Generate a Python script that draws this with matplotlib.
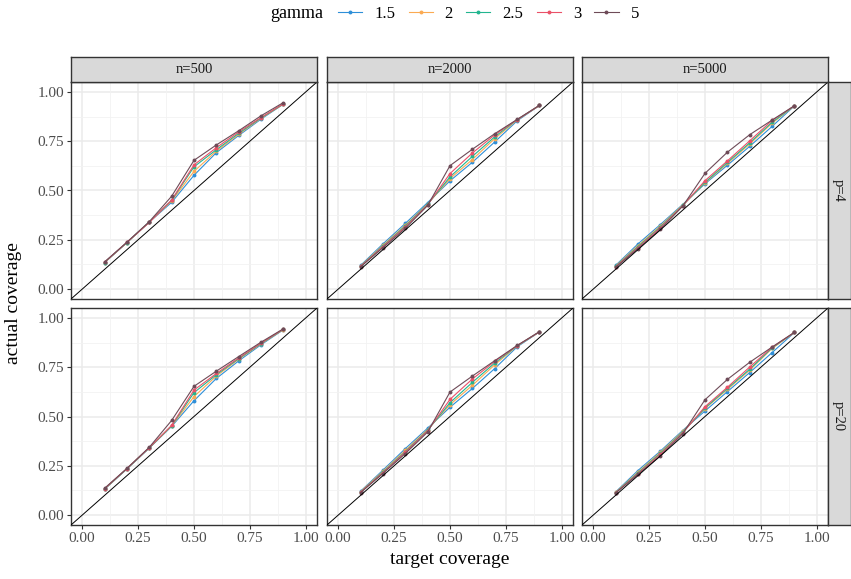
import numpy as np
import matplotlib
matplotlib.use("Agg")
import matplotlib.pyplot as plt
from matplotlib.lines import Line2D

plt.rcParams['font.family'] = ['Liberation Serif', 'DejaVu Serif']

target = [0.1, 0.2, 0.3, 0.4, 0.5, 0.6, 0.7, 0.8, 0.9]
gammas = ["1.5", "2", "2.5", "3", "5"]
colors = ["#2E8FD8", "#FBAA52", "#22B58F", "#EA5168", "#6E4B58"]
n_labels = ["n=500", "n=2000", "n=5000"]
p_labels = ["p=4", "p=20"]

# actual coverage, [p][n][gamma]
cov_p4_n500 = [
    [0.135, 0.236, 0.340, 0.440, 0.577, 0.692, 0.779, 0.862, 0.938],
    [0.135, 0.236, 0.340, 0.447, 0.597, 0.700, 0.785, 0.866, 0.938],
    [0.135, 0.236, 0.340, 0.450, 0.620, 0.707, 0.790, 0.868, 0.939],
    [0.136, 0.237, 0.338, 0.452, 0.630, 0.717, 0.797, 0.870, 0.940],
    [0.138, 0.238, 0.342, 0.471, 0.653, 0.731, 0.803, 0.879, 0.946],
]
cov_p4_n2000 = [
    [0.120, 0.229, 0.333, 0.439, 0.549, 0.643, 0.746, 0.853, 0.931],
    [0.117, 0.222, 0.324, 0.432, 0.560, 0.657, 0.763, 0.857, 0.931],
    [0.116, 0.218, 0.320, 0.430, 0.569, 0.673, 0.772, 0.859, 0.931],
    [0.115, 0.215, 0.315, 0.427, 0.586, 0.690, 0.782, 0.859, 0.931],
    [0.113, 0.210, 0.308, 0.424, 0.626, 0.709, 0.788, 0.860, 0.932],
]
cov_p4_n5000 = [
    [0.120, 0.229, 0.327, 0.429, 0.534, 0.628, 0.724, 0.825, 0.929],
    [0.117, 0.220, 0.320, 0.426, 0.538, 0.637, 0.736, 0.841, 0.929],
    [0.115, 0.215, 0.315, 0.424, 0.541, 0.642, 0.742, 0.846, 0.929],
    [0.113, 0.210, 0.310, 0.422, 0.550, 0.650, 0.752, 0.855, 0.929],
    [0.110, 0.205, 0.303, 0.420, 0.587, 0.694, 0.783, 0.857, 0.930],
]
cov_p20_n500 = [
    [0.131, 0.234, 0.340, 0.450, 0.580, 0.693, 0.782, 0.864, 0.940],
    [0.132, 0.235, 0.341, 0.452, 0.601, 0.705, 0.790, 0.868, 0.941],
    [0.133, 0.235, 0.341, 0.453, 0.621, 0.712, 0.793, 0.870, 0.942],
    [0.134, 0.236, 0.342, 0.455, 0.634, 0.718, 0.797, 0.872, 0.943],
    [0.136, 0.237, 0.344, 0.480, 0.653, 0.730, 0.804, 0.877, 0.945],
]
cov_p20_n2000 = [
    [0.121, 0.228, 0.337, 0.441, 0.547, 0.642, 0.743, 0.853, 0.929],
    [0.119, 0.222, 0.328, 0.434, 0.560, 0.658, 0.762, 0.857, 0.929],
    [0.117, 0.218, 0.322, 0.430, 0.570, 0.673, 0.771, 0.858, 0.929],
    [0.116, 0.215, 0.318, 0.427, 0.587, 0.690, 0.779, 0.859, 0.929],
    [0.114, 0.211, 0.312, 0.421, 0.624, 0.705, 0.783, 0.860, 0.930],
]
cov_p20_n5000 = [
    [0.117, 0.226, 0.324, 0.429, 0.528, 0.626, 0.723, 0.824, 0.926],
    [0.115, 0.218, 0.318, 0.424, 0.540, 0.637, 0.735, 0.845, 0.926],
    [0.114, 0.214, 0.313, 0.420, 0.543, 0.642, 0.740, 0.848, 0.926],
    [0.113, 0.210, 0.308, 0.416, 0.550, 0.648, 0.751, 0.851, 0.926],
    [0.112, 0.206, 0.300, 0.412, 0.585, 0.688, 0.775, 0.852, 0.927],
]
coverage = [[cov_p4_n500, cov_p4_n2000, cov_p4_n5000],
            [cov_p20_n500, cov_p20_n2000, cov_p20_n5000]]

W, H = 851, 579
fig = plt.figure(figsize=(W / 100, H / 100), dpi=100)


def px(x0, y0, x1, y1):
    # pixel box (top-left origin) -> figure fraction rect
    return [x0 / W, 1 - y1 / H, (x1 - x0) / W, (y1 - y0) / H]


col_x = [(71, 317), (327, 573), (582, 828)]
row_y = [(82, 299), (308, 525)]
edge = "#333333"
ticks = [0, 0.25, 0.5, 0.75, 1.0]
minor = [0.125, 0.375, 0.625, 0.875]

for r in range(2):
    for c in range(3):
        ax = fig.add_axes(px(col_x[c][0], row_y[r][0], col_x[c][1], row_y[r][1]))
        ax.set_xlim(-0.05, 1.05)
        ax.set_ylim(-0.05, 1.05)
        for v in ticks:
            ax.axhline(v, color="#EBEBEB", lw=1.1, zorder=0)
            ax.axvline(v, color="#EBEBEB", lw=1.1, zorder=0)
        for v in minor:
            ax.axhline(v, color="#F2F2F2", lw=0.6, zorder=0)
            ax.axvline(v, color="#F2F2F2", lw=0.6, zorder=0)
        for g in range(len(gammas)):
            ax.plot(target, coverage[r][c][g], color=colors[g], lw=0.8,
                    marker="o", ms=2.8, mew=0, zorder=2)
        ax.plot([-0.05, 1.05], [-0.05, 1.05], color="black", lw=0.7, zorder=3)
        for s in ax.spines.values():
            s.set_color(edge)
            s.set_linewidth(1.0)
        ax.set_xticks(ticks)
        ax.set_yticks(ticks)
        ax.tick_params(length=3, width=0.8, color=edge, labelsize=11,
                       labelcolor="#4D4D4D", pad=2)
        ax.set_xticklabels(["0.00", "0.25", "0.50", "0.75", "1.00"])
        ax.set_yticklabels(["0.00", "0.25", "0.50", "0.75", "1.00"])
        if c > 0:
            ax.tick_params(left=False, labelleft=False)
        if r == 0:
            ax.tick_params(bottom=False, labelbottom=False)

# column strips
for c in range(3):
    sax = fig.add_axes(px(col_x[c][0], 57, col_x[c][1], 82))
    sax.set_facecolor("#D9D9D9")
    sax.set_xticks([])
    sax.set_yticks([])
    for s in sax.spines.values():
        s.set_color(edge)
        s.set_linewidth(1.0)
    sax.text(0.5, 0.5, n_labels[c], ha="center", va="center", fontsize=10.5,
             color="#1A1A1A", transform=sax.transAxes)

# row strips
for r in range(2):
    sax = fig.add_axes(px(828, row_y[r][0], 851, row_y[r][1]))
    sax.set_facecolor("#D9D9D9")
    sax.set_xticks([])
    sax.set_yticks([])
    for s in sax.spines.values():
        s.set_color(edge)
        s.set_linewidth(1.0)
    sax.text(0.45, 0.5, p_labels[r], ha="center", va="center", fontsize=10.5,
             rotation=-90, color="#1A1A1A", transform=sax.transAxes)

fig.text(449.5 / W, 1 - 560 / H, "target coverage", ha="center", va="center",
         fontsize=14)
fig.text(14 / W, 1 - 303 / H, "actual coverage", ha="center", va="center",
         fontsize=14, rotation=90)

# legend
fig.text(270 / W, 1 - 13 / H, "gamma", ha="left", va="center", fontsize=13)
handles = [Line2D([0], [0], color=colors[g], lw=0.8, marker="o", ms=2.8, mew=0)
           for g in range(len(gammas))]
fig.legend(handles, gammas, loc="center left", bbox_to_anchor=(338 / W, 1 - 14 / H),
           ncol=5, frameon=False, fontsize=12, handlelength=1.45, handletextpad=0.72,
           columnspacing=0.8, borderaxespad=0, borderpad=0)

fig.savefig("out.png", dpi=100)
